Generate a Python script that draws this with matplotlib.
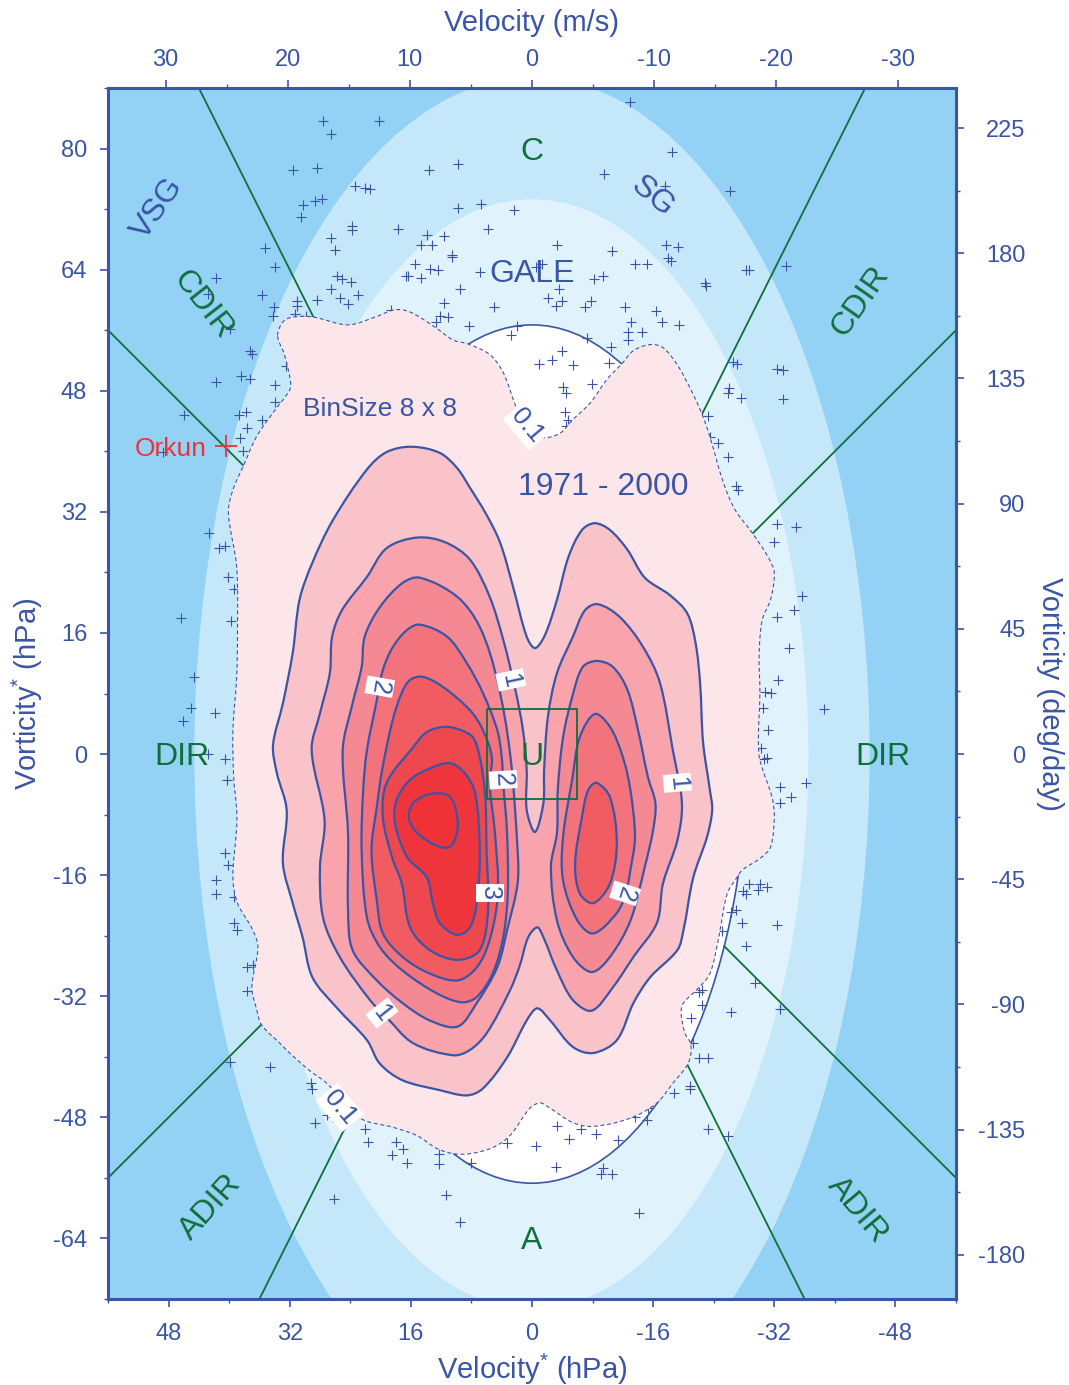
import matplotlib
matplotlib.use("Agg")
import matplotlib.pyplot as plt
from matplotlib.patches import Ellipse, PathPatch, Rectangle
from matplotlib.path import Path

plt.rcParams['font.family'] = ['Liberation Sans', 'DejaVu Sans']
plt.rcParams['mathtext.default'] = 'regular'

BLUE = '#3b55a5'
GREEN = '#0f6f3b'

# ---- data (velocity hPa, vorticity hPa) ----
level_01 = [(33.6,55.3),(32.7,57.3),(30.9,57.8),(28.7,57.7),(24.3,56.7),(20.8,57.7),(18.1,58.7),(16.1,58.4),(13.1,56.6),(10.4,54.7),
            (8.5,54.2),(5.6,52.8),(3.8,50.4),(2.2,46.1),(0.7,42.8),(-1.5,41.8),(-3.7,42.4),(-5.4,44.2),(-7.7,46.4),(-9.9,49.5),
            (-11.9,51.6),(-13.4,53.3),(-15.6,54.1),(-17.3,53.7),(-19.2,51.4),(-21.2,47.7),(-22.5,44.8),(-23.5,41.9),(-25.3,35.8),(-26.8,32.3),
            (-29.1,29.2),(-31.2,26.0),(-32.0,23.9),(-31.5,20.4),(-30.4,17.7),(-30.0,13.1),(-30.1,8.1),(-29.9,1.9),(-30.1,-0.8),(-31.7,-5.7),
            (-32.0,-8.3),(-31.5,-12.3),(-30.1,-13.8),(-27.8,-15.3),(-27.0,-16.4),(-25.8,-18.4),(-24.9,-22.9),(-24.6,-24.6),(-23.5,-29.0),(-22.0,-30.9),
            (-20.0,-32.9),(-19.7,-34.2),(-20.2,-36.9),(-20.9,-38.1),(-21.0,-39.5),(-20.5,-41.1),(-18.6,-43.5),(-16.5,-46.1),(-13.0,-48.1),(-8.1,-49.2),
            (-5.4,-48.7),(-2.4,-46.8),(-1.1,-46.1),(0.3,-46.8),(2.9,-50.4),(5.2,-52.0),(8.2,-52.8),(10.4,-52.8),(12.6,-52.1),(15.2,-50.4),
            (18.4,-49.3),(22.7,-48.1),(27.1,-43.5),(29.4,-41.8),(32.0,-39.5),(33.3,-38.2),(35.7,-35.8),(36.4,-33.6),(37.0,-30.8),(36.2,-25.5),
            (37.0,-23.0),(38.9,-19.7),(39.5,-16.3),(39.0,-9.7),(39.0,-7.4),(39.4,-3.0),(39.5,3.2),(39.0,10.2),(38.9,16.0),(39.0,24.7),
            (40.1,31.9),(39.5,34.9),(38.1,38.1),(36.4,41.9),(34.2,45.1),(32.0,48.1),(31.9,49.3),(32.7,52.8)]
level_05 = [(15.9,40.6),(12.2,39.8),(9.9,37.8),(8.2,35.2),(6.0,31.6),(4.2,27.9),(2.5,22.1),(0.7,15.5),(-0.4,14.0),(-1.7,15.7),
            (-3.3,20.4),(-4.8,26.0),(-6.6,29.6),(-8.3,30.5),(-10.3,29.6),(-12.6,27.0),(-14.9,23.3),(-18.2,21.0),(-20.5,18.6),(-21.6,14.7),
            (-22.2,9.4),(-22.6,1.5),(-23.5,-4.8),(-23.8,-7.4),(-23.1,-11.0),(-21.3,-16.3),(-20.0,-23.3),(-19.2,-25.9),(-15.6,-29.5),(-13.4,-32.9),
            (-11.2,-37.8),(-8.1,-39.5),(-5.4,-38.7),(-2.4,-35.2),(-0.7,-33.6),(0.7,-35.2),(3.3,-40.1),(6.5,-44.2),(8.6,-45.1),(12.2,-44.4),
            (17.1,-43.1),(20.1,-40.9),(21.8,-37.8),(25.8,-33.5),(29.0,-29.5),(30.3,-24.2),(31.6,-19.7),(32.9,-14.4),(32.4,-7.4),(33.7,-2.5),
            (34.2,1.2),(32.9,6.7),(31.6,13.4),(30.7,20.4),(29.0,25.3),(26.3,30.9),(21.8,37.6),(19.2,39.9)]
level_10 = [(15.2,28.6),(11.5,28.0),(8.2,25.7),(5.6,20.8),(3.8,15.1),(2.2,8.5),(1.2,3.2),(0.7,-2.1),(0.7,-7.4),(-0.4,-10.3),
            (-1.5,-6.5),(-1.6,-2.1),(-2.1,4.9),(-3.3,10.7),(-5.4,15.5),(-7.0,19.0),(-8.7,19.8),(-11.6,18.1),(-14.7,14.1),(-16.9,9.4),
            (-18.6,0.5),(-19.8,-6.5),(-19.2,-11.4),(-17.3,-17.1),(-16.5,-22.3),(-13.4,-26.8),(-10.7,-30.8),(-7.9,-33.9),(-5.4,-32.5),(-3.3,-28.6),
            (-1.5,-24.2),(-0.7,-22.9),(0.5,-24.2),(1.6,-27.9),(2.9,-31.2),(6.0,-36.9),(8.2,-39.1),(10.4,-39.8),(15.7,-38.2),(19.2,-34.8),
            (21.4,-32.5),(25.4,-26.8),(27.6,-21.6),(28.0,-14.9),(27.4,-8.7),(29.1,0.5),(28.0,5.4),(26.7,10.7),(26.4,15.5),(25.1,19.0),
            (21.8,23.4),(19.2,27.2)]
level_15_left = [(14.8,23.3),(9.9,20.8),(6.9,16.8),(4.6,9.8),(2.9,0.1),(1.9,-12.7),(1.9,-17.1),(3.2,-22.9),(4.6,-28.2),(7.3,-32.9),
                 (9.8,-36.0),(13.5,-35.2),(17.1,-32.9),(20.5,-29.9),(23.7,-25.9),(24.3,-20.6),(24.3,-10.4),(25.0,0.5),(23.7,6.7),(22.5,11.5),
                 (22.1,15.5),(20.1,19.4),(17.1,22.6)]
level_15_right = [(-8.6,12.3),(-10.7,11.5),(-12.6,8.5),(-14.0,3.2),(-15.3,-3.0),(-16.3,-6.5),(-16.0,-10.0),(-14.9,-14.9),(-13.0,-22.0),(-10.3,-26.8),
                  (-7.9,-28.8),(-5.4,-26.8),(-3.3,-22.0),(-2.5,-14.9),(-3.3,-10.4),(-3.4,-4.8),(-4.1,2.2),(-5.3,7.5),(-6.7,11.5)]
level_20_left = [(14.8,17.1),(11.2,15.5),(8.6,12.0),(6.5,8.1),(4.6,3.2),(4.0,-0.4),(3.8,-3.8),(3.3,-10.4),(3.2,-18.4),(3.8,-24.2),
                 (5.2,-29.0),(7.3,-32.1),(9.3,-32.8),(12.6,-31.6),(17.1,-28.6),(20.1,-25.5),(21.8,-21.6),(22.5,-12.7),(22.3,-4.8),(21.8,0.5),
                 (20.5,7.1),(19.7,11.1),(18.4,14.1),(16.5,16.4)]
level_20_right = [(-8.3,5.3),(-10.3,3.6),(-12.0,-0.4),(-13.0,-4.8),(-13.6,-11.0),(-13.0,-15.3),(-12.4,-18.4),(-11.2,-21.0),(-8.1,-23.7),(-6.0,-22.0),
                  (-4.1,-16.7),(-4.1,-11.0),(-5.3,-3.4),(-6.3,2.2)]
level_25_left = [(14.4,10.2),(11.8,8.9),(8.2,5.8),(6.5,3.2),(5.3,-0.4),(5.6,-3.8),(4.9,-10.4),(4.5,-18.4),(5.6,-24.6),(7.3,-28.2),
                 (9.8,-29.9),(13.5,-29.0),(17.1,-26.8),(19.7,-23.7),(20.5,-19.3),(21.2,-12.7),(20.5,-7.0),(19.8,-2.1),(18.4,4.5),(17.2,8.1),(16.1,9.8)]
level_25_right = [(-8.5,-3.8),(-10.3,-5.7),(-11.2,-11.8),(-10.3,-17.1),(-8.1,-19.7),(-6.3,-18.4),(-5.7,-14.4),(-6.6,-8.3),(-7.4,-4.8)]
level_30 = [(11.5,3.6),(9.5,3.2),(7.8,2.2),(6.9,-0.4),(6.2,-5.2),(6.0,-12.7),(5.8,-20.6),(6.9,-25.9),(9.8,-27.2),(13.5,-25.9),
            (16.1,-22.9),(17.2,-17.1),(18.5,-13.6),(19.7,-8.3),(19.2,-3.8),(15.7,0.9),(13.9,2.9)]
level_35 = [(10.8,-1.2),(8.9,-2.5),(7.5,-5.2),(6.9,-12.7),(7.3,-19.7),(8.2,-22.9),(9.9,-23.9),(12.2,-22.3),(13.1,-19.7),(13.9,-16.3),
            (16.5,-13.6),(18.1,-9.1),(17.9,-6.1),(16.1,-3.4),(13.5,-1.9)]
level_40 = [(13.1,-5.2),(10.8,-5.7),(9.8,-9.1),(10.4,-11.8),(11.5,-12.4),(13.9,-11.4),(15.7,-9.8),(16.3,-8.1),(15.5,-6.3)]

# genesis points 1971 - 2000
points = [(27.6,83.7),(20.2,83.6),(26.6,81.9),(31.6,77.1),(28.4,77.4),(23.4,75.0),(22.0,74.8),(21.4,74.7),(27.8,73.4),(28.7,73.1),
          (30.3,72.5),(30.5,70.9),(23.8,69.8),(23.8,69.2),(17.7,69.4),(26.6,68.2),(26.0,66.6),(35.2,66.8),(34.0,64.4),(25.8,63.2),
          (25.1,62.7),(23.9,62.4),(41.7,62.9),(26.6,61.5),(23.0,60.6),(25.3,60.3),(24.3,59.4),(28.4,60.0),(35.6,60.6),(31.1,59.9),
          (31.1,59.2),(31.3,58.2),(29.9,57.9),(34.1,59.1),(34.2,57.9),(42.8,60.8),(39.9,56.1),(37.3,53.2),(37.0,52.9),(32.5,51.3),
          (38.5,49.9),(37.3,49.6),(41.7,49.2),(33.9,48.7),(18.6,58.7),(16.7,63.1),
          (-13.0,86.2),(-18.5,79.6),(9.8,77.9),(13.6,77.1),(-9.5,76.6),(-17.5,75.0),(9.8,72.2),(6.7,72.7),(2.4,71.9),(5.8,69.4),
          (13.9,68.6),(11.6,68.4),(14.7,67.3),(13.2,67.3),(10.6,65.9),(10.6,65.7),(-3.3,67.2),(-10.6,66.4),(-17.7,67.3),(-19.3,67.0),
          (-18.0,65.6),(-18.4,65.2),(-13.6,64.8),(-15.2,64.7),(15.5,64.8),(13.5,64.1),(12.4,64.0),(6.9,63.7),(-0.5,64.4),(-1.3,64.7),
          (16.4,63.1),(14.7,62.9),(-9.4,63.2),(-8.2,62.7),(9.5,61.4),(-3.6,61.4),(-2.1,60.2),(-4.0,59.8),(-3.2,59.2),(-7.8,59.9),
          (-7.0,59.1),(11.6,59.6),(5.0,59.1),(-12.3,59.1),(-16.4,58.6),(12.2,57.9),(11.1,57.7),(12.7,57.1),(-13.1,57.1),(-17.2,57.1),
          (-19.4,56.7),(8.3,56.6),(2.0,56.5),(2.8,55.3),(-12.7,55.7),(-14.5,55.8),(-12.7,54.7),(-7.3,55.0),(-10.4,53.8),(-4.0,53.2),
          (-2.6,52.0),(-0.9,51.6),(-5.4,51.4),(-10.2,51.7),(-4.1,48.5),(-4.5,47.7),(-7.9,48.9),(-4.4,45.2),(-4.8,44.2),(-4.5,43.4),
          (34.0,46.5),(46.0,44.8),(38.7,44.8),(37.8,45.2),(35.7,44.2),(37.7,43.1),(38.6,41.8),(38.2,40.1),(48.8,39.9),(42.6,29.2),
          (40.5,27.5),(41.3,27.2),(40.2,23.4),(39.4,21.8),(46.3,18.0),(39.8,17.6),(44.7,10.2),(45.1,6.1),(41.9,5.4),(46.1,4.4),
          (42.8,0.0),(40.6,-0.7),(40.3,-3.4),(40.6,-13.1),(40.1,-14.7),(41.7,-16.7),(41.8,-18.5),(39.3,-18.9),(39.3,-22.3),(39.0,-23.3),
          (37.7,-28.2),(36.9,-27.9),(37.6,-31.3),
          (-26.6,51.8),(-27.1,51.6),(-32.4,50.9),(-33.1,50.8),(-26.0,48.3),(-25.9,47.7),(-27.6,47.1),(-33.2,46.9),(-23.3,44.6),(-23.5,41.9),
          (-24.5,41.1),(-25.9,39.3),(-27.0,35.4),(-27.2,34.9),(-32.3,30.4),(-34.9,30.0),(-32.0,28.0),(-35.7,20.9),(-34.6,19.0),(-32.3,18.1),
          (-34.0,14.0),(-32.5,9.8),(-30.8,8.2),(-31.5,8.1),(-30.5,6.1),(-38.6,6.0),(-31.2,3.2),(-30.3,0.8),(-31.1,-0.5),(-30.7,-0.7),
          (-32.8,-4.4),(-36.2,-3.8),(-34.2,-5.7),(-32.7,-6.5),(-28.6,-17.2),(-30.1,-17.2),(-31.1,-17.5),(-29.8,-18.0),(-27.9,-18.1),(-28.2,-18.5),
          (-27.0,-20.6),(-26.3,-20.9),(-27.8,-22.3),(-32.4,-22.6),(-25.1,-23.4),(-28.3,-25.4),(-29.5,-30.3),(-22.5,-31.2),(-22.0,-31.5),(-22.5,-33.1),
          (-26.3,-34.1),(-32.8,-33.7),(-21.0,-34.9),(-21.3,-38.2),(-22.0,-40.2),(-23.3,-40.1),
          (-18.8,-44.8),(-20.9,-43.8),(-20.9,-44.2),(29.2,-43.4),(29.1,-44.2),(27.1,-47.7),(26.3,-48.0),(28.6,-48.7),(22.0,-49.5),(21.6,-51.3),
          (18.0,-51.2),(17.1,-52.2),(18.5,-53.0),(16.5,-54.0),(12.3,-52.9),(12.3,-54.1),(8.1,-54.0),(3.3,-51.4),(-0.5,-51.8),(-3.3,-49.1),
          (-6.5,-49.6),(-4.9,-50.9),(-8.5,-50.2),(-11.4,-51.0),(-3.2,-54.5),(-9.4,-54.7),(-9.1,-55.5),(-10.6,-55.5),(-13.6,-48.0),(-15.2,-48.4),
          (-15.3,-46.8),(11.4,-58.2),(26.2,-58.8),(9.5,-61.8),(-14.1,-60.6),(39.9,-40.7),(34.6,-41.3),(-23.3,-49.5),(-25.9,-50.5),(-26.2,74.4),
          (-28.6,63.9),(-28.3,63.9),(-33.5,64.5),(-22.9,62.3),(-23.0,61.9)]

ellipse_a = [44.6, 36.5, 28.4]
ellipse_b = [89.4, 73.3, 56.7]
ellipse_colors = ['#c5e7fa', '#e0f3fc', '#ffffff']

sector_dirs = [(56, 56), (44, 88), (-44, 88), (-56, 56), (56, -56), (36, -72), (-36, -72), (-56, -56)]

x_ticks = [48, 32, 16, 0, -16, -32, -48]
y_ticks = [-64, -48, -32, -16, 0, 16, 32, 48, 64, 80]
ms_ticks = [30, 20, 10, 0, -10, -20, -30]
deg_ticks = [-180, -135, -90, -45, 0, 45, 90, 135, 180, 225]


def closed_curve(pts):
    # smooth curve through the read points, spacing aware so uneven points do not wobble
    n = len(pts)
    dist = [((pts[(i + 1) % n][0] - pts[i][0]) ** 2 + (pts[(i + 1) % n][1] - pts[i][1]) ** 2) ** 0.5 for i in range(n)]
    tang = []
    for i in range(n):
        a, b = pts[i - 1], pts[(i + 1) % n]
        s = dist[i - 1] + dist[i]
        tang.append(((b[0] - a[0]) / s, (b[1] - a[1]) / s))
    verts = [pts[0]]
    codes = [Path.MOVETO]
    for i in range(n):
        j = (i + 1) % n
        d = dist[i] / 3
        verts.append((pts[i][0] + tang[i][0] * d, pts[i][1] + tang[i][1] * d))
        verts.append((pts[j][0] - tang[j][0] * d, pts[j][1] - tang[j][1] * d))
        verts.append(pts[j])
        codes += [Path.CURVE4] * 3
    return Path(verts, codes)


fig = plt.figure(figsize=(10.69, 13.85), dpi=100)
ax = fig.add_axes([108 / 1069, 1 - 1299 / 1385, 848 / 1069, 1211 / 1385])
ax.set_xlim(56, -56)
ax.set_ylim(-72, 88)
ax.set_facecolor('#93d2f5')

# wind speed ellipses
for a, b, c in zip(ellipse_a, ellipse_b, ellipse_colors):
    ax.add_patch(Ellipse((0, 0), 2 * a, 2 * b, fc=c, ec='none', zorder=1))
ax.add_patch(Ellipse((0, 0), 2 * ellipse_a[2], 2 * ellipse_b[2], fc='none', ec=BLUE, lw=1.2, zorder=2))

# sector lines stop at the inner ellipse
for dx, dy in sector_dirs:
    t = 1 / ((dx / ellipse_a[2]) ** 2 + (dy / ellipse_b[2]) ** 2) ** 0.5
    ax.plot([dx * t, dx], [dy * t, dy], color=GREEN, lw=1.3, zorder=2)

ax.plot([p[0] for p in points], [p[1] for p in points], ls='none', marker='+',
        ms=7, mew=0.8, color=BLUE, zorder=3)

# density shading
ax.add_patch(PathPatch(closed_curve(level_01), fc='#fde6ea', ec=BLUE, lw=0.8, ls=(0, (3.5, 2.5)), zorder=4))
fills = [(level_05, '#fac2c9'), (level_10, '#f9a4ad'), (level_15_left, '#f58993'), (level_15_right, '#f58993'),
         (level_20_left, '#f3737c'), (level_20_right, '#f3737c'), (level_25_left, '#f15c63'), (level_25_right, '#f15c63'),
         (level_30, '#ee474d'), (level_35, '#ee353b'), (level_40, '#ee3238')]
for z, (pts, col) in enumerate(fills):
    ax.add_patch(PathPatch(closed_curve(pts), fc=col, ec=BLUE, lw=1.6, zorder=5 + z * 0.01))

ax.add_patch(Rectangle((-6, -6), 12, 12, fc='none', ec=GREEN, lw=1.3, zorder=6))

# contour labels
contour_labels = [('0.1', 0.7, 43.4, -50), ('0.1', 25.4, -46.7, -50), ('1', 2.8, 9.8, -78), ('1', -19.2, -3.8, -85),
                  ('1', 19.8, -34.2, -52), ('2', 20.1, 8.9, -100), ('2', 3.8, -3.4, -87), ('3', 5.6, -18.4, -90),
                  ('2', -12.3, -18.4, -108)]
for s, x, y, rot in contour_labels:
    ax.text(x, y, s, color=BLUE, fontsize=19 if s == '0.1' else 18, rotation=rot, rotation_mode='anchor',
            ha='center', va='center', bbox=dict(fc='white', ec='none', pad=1.5), zorder=7)

# region names
for s, x, y, rot, col in [('C', 0, 79.5, 0, GREEN), ('A', 0, -64.4, 0, GREEN), ('U', 0, -0.4, 0, GREEN),
                          ('DIR', 46.3, -0.4, 0, GREEN), ('DIR', -46.4, -0.4, 0, GREEN), ('GALE', 0, 63.4, 0, BLUE),
                          ('VSG', 49.4, 72.0, 55, BLUE), ('SG', -15.9, 73.6, -40, BLUE),
                          ('CDIR', 43.5, 59.4, -52, GREEN), ('CDIR', -43.4, 59.8, 55, GREEN),
                          ('ADIR', 42.4, -59.9, 48, GREEN), ('ADIR', -43.0, -60.2, -50, GREEN),
                          ('1971 - 2000', -9.4, 35.3, 0, BLUE)]:
    ax.text(x, y, s, color=col, fontsize=23, rotation=rot, ha='center', va='center', zorder=8)
ax.text(20.1, 45.6, 'BinSize 8 x 8', color=BLUE, fontsize=19, ha='center', va='center', zorder=8)
ax.text(43.0, 40.3, 'Orkun', color='#ee3338', fontsize=19, ha='right', va='center', zorder=8)
ax.plot([40.4], [40.7], marker='+', ms=16, mew=1.3, color='#ee3338', zorder=8)

# axes, all four sides
for sp in ax.spines.values():
    sp.set_color(BLUE)
    sp.set_linewidth(2.2)
    sp.set_zorder(10)

ax.set_xticks(x_ticks)
ax.set_xticklabels([str(t) for t in x_ticks])
ax.set_xticks(list(range(-56, 57, 8)), minor=True)
ax.set_yticks(y_ticks)
ax.set_yticklabels([str(t) for t in y_ticks])
ax.set_yticks(list(range(-72, 89, 8)), minor=True)
ax.set_xlabel('Velocity$^{*}$ (hPa)', fontsize=21, color=BLUE, labelpad=5)
ax.set_ylabel('Vorticity$^{*}$ (hPa)', fontsize=21, color=BLUE, labelpad=6)

top = ax.secondary_xaxis('top', functions=(lambda v: v / 1.613, lambda v: v * 1.613))
top.set_xticks(ms_ticks)
top.set_xticklabels([str(t) for t in ms_ticks])
top.set_xticks([v + 5 for v in ms_ticks[:-1]] + [-35, 35], minor=True)
top.set_xlabel('Velocity (m/s)', fontsize=21, color=BLUE, labelpad=13)

right = ax.secondary_yaxis('right', functions=(lambda v: v / 0.3676, lambda v: v * 0.3676))
right.set_yticks(deg_ticks)
right.set_yticklabels([str(t) for t in deg_ticks])
right.set_yticks([d + 22.5 for d in deg_ticks] + [-202.5], minor=True)
right.set_ylabel('Vorticity (deg/day)', fontsize=21, color=BLUE, rotation=-90, labelpad=28)

for a, p in ((ax, 9), (top, 6.5), (right, 44)):
    a.tick_params(which='major', length=6, width=1.2, color=BLUE, labelcolor=BLUE, labelsize=17, pad=p)
    a.tick_params(which='minor', length=3, width=1.0, color=BLUE)
ax.tick_params(axis='x', which='major', pad=11)
# right hand labels line up on their right edge
for lab in right.get_yticklabels():
    lab.set_ha('right')
for a in (top, right):
    a.spines[:].set_visible(False)

fig.savefig('out.png', dpi=100)
